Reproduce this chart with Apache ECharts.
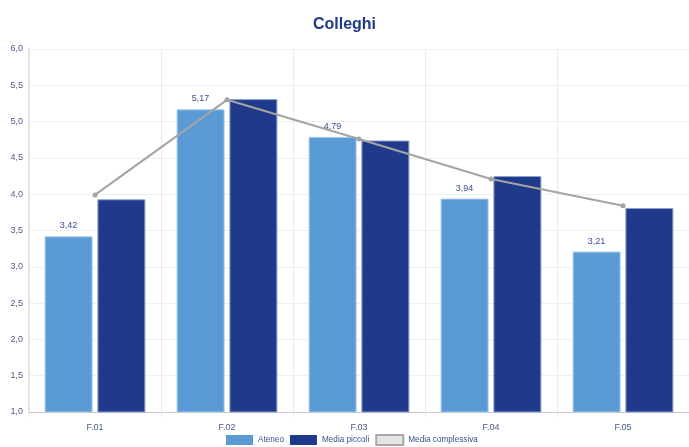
<!DOCTYPE html>
<html><head><meta charset="utf-8">
<script src="https://cdn.jsdelivr.net/npm/echarts@6/dist/echarts.min.js"></script>
<style>html,body{margin:0;padding:0;background:#fff}#c{width:689px;height:447px}</style>
</head><body><div id="c"></div>
<script>
const categories = ['F.01','F.02','F.03','F.04','F.05'];
const ateneo = [3.42, 5.17, 4.79, 3.94, 3.21];
const mediaPiccoli = [3.93, 5.31, 4.74, 4.25, 3.81];
const mediaComplessiva = [3.99, 5.30, 4.76, 4.21, 3.84];
const fmt = v => Number(v).toFixed(2).replace('.', ',');
const chart = echarts.init(document.getElementById('c'));
chart.setOption({
  animation:false,
  title:{text:'Colleghi',left:'center',top:12,textStyle:{color:'#1f3a87',fontSize:16,fontWeight:'bold',fontFamily:'Liberation Sans, Arial'}},
  grid:{left:29,right:0,top:49,bottom:35},
  legend:{bottom:1,left:226,padding:0,itemWidth:27,itemHeight:10,itemGap:6,textStyle:{color:'#3a4f8f',fontSize:8.2,fontFamily:'Liberation Sans, Arial'},
    data:[{name:'Ateneo',icon:'rect',itemStyle:{borderWidth:0}},{name:'Media piccoli',icon:'rect',itemStyle:{borderWidth:0}},{name:'Media complessiva',icon:'rect',itemStyle:{color:'#e4e4e4',borderColor:'#a8a8a8',borderWidth:2}}]},
  xAxis:{type:'category',data:categories,
    axisLine:{lineStyle:{color:'#c8c8c8'}},axisTick:{show:true,length:5,lineStyle:{color:'#e6e6e6'}},
    splitLine:{show:true,lineStyle:{color:'#ebebeb'}},
    axisLabel:{color:'#4a5a8a',fontSize:9,margin:11,fontFamily:'Liberation Sans, Arial'}},
  yAxis:{type:'value',min:1,max:6,interval:0.5,
    axisLine:{show:true,lineStyle:{color:'#e4e4e4',width:2}},
    splitLine:{lineStyle:{color:'#eeeeee'}},
    axisLabel:{color:'#4a5a8a',fontSize:9,margin:6,fontFamily:'Liberation Sans, Arial',formatter:v=>v.toFixed(1).replace('.',',')}},
  series:[
    {name:'Ateneo',type:'bar',data:ateneo,barWidth:48,barGap:'10%',
      itemStyle:{color:'#5b9bd5',borderColor:'#a9cbea',borderWidth:1},
      label:{show:true,position:'top',distance:6,color:'#3a4f8f',fontSize:9,fontFamily:'Liberation Sans, Arial',formatter:p=>fmt(p.value)}},
    {name:'Media piccoli',type:'bar',data:mediaPiccoli,barWidth:48,
      itemStyle:{color:'#1f3a8a',borderColor:'#8fa0cc',borderWidth:1}},
    {name:'Media complessiva',type:'line',data:mediaComplessiva,z:5,
      symbol:'circle',symbolSize:5,
      lineStyle:{color:'#a4a4a4',width:2},itemStyle:{color:'#a4a4a4'}}
  ]
});
</script></body></html>
